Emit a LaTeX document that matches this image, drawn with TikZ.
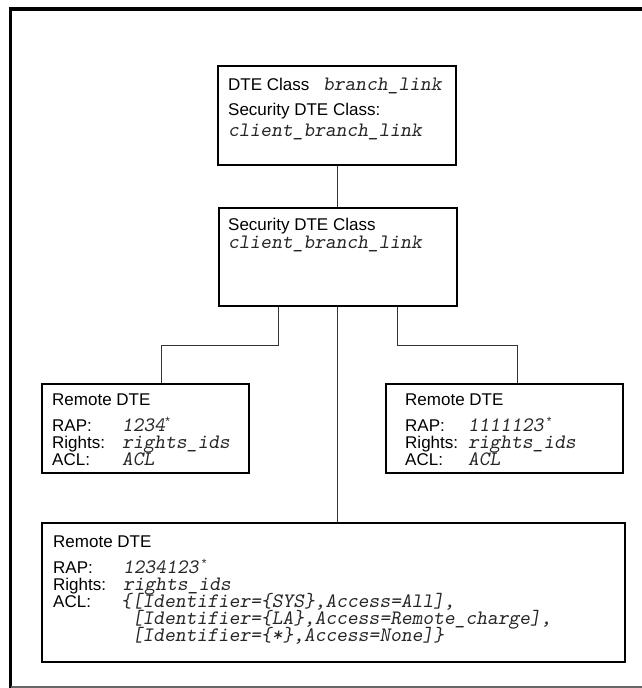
\documentclass[tikz,border=0pt]{standalone}
\usepackage{fontspec}
\setmainfont{Liberation Sans}
\newcommand{\supast}{{\normalfont\fontsize{12}{12}\selectfont\raisebox{6pt}{*}}}
\begin{document}
\begin{tikzpicture}[x=1pt,y=-1pt,
  box/.style={draw,line width=2pt,rectangle,inner sep=0pt,anchor=north west},
  lab/.style={anchor=base west,inner sep=0pt,font=\fontsize{17}{18}\selectfont},
  val/.style={anchor=base west,inner sep=0pt,text=black!85,font=\fontsize{20.5}{20}\selectfont\ttfamily\slshape},
  conn/.style={line width=0.9pt,black!80}]
\useasboundingbox (0,0) rectangle (642,688);
% outer frame
\draw[line width=3.5pt] (10.5,690) -- (10.5,9) -- (645,9);
\draw[line width=1.5pt,black!60] (10.5,687) -- (645,687);

% boxes
\node[box,minimum width=238pt,minimum height=99pt] (top) at (217,65) {};
\node[box,minimum width=238pt,minimum height=98pt] (mid) at (218,207) {};
\node[box,minimum width=207pt,minimum height=89pt] (left) at (41,383) {};
\node[box,minimum width=237pt,minimum height=89pt] (right) at (385,383) {};
\node[box,minimum width=583pt,minimum height=139pt] (bot) at (41,522) {};

% connectors
\coordinate (j1) at (278,345);
\coordinate (j2) at (397,345);
\draw[conn] (top.south) -- (mid.north -| top.south);
\draw[conn] (j1 |- mid.south) -- (j1) -| ([xshift=15.5pt]left.north);
\draw[conn] (j2 |- mid.south) -- (j2) -| ([xshift=12.5pt]right.north);
\draw[conn] ([xshift=-0.5pt]mid.south) -- ([xshift=-0.5pt]mid.south |- bot.north);

% top box text
\node[lab] (t1) at (228,90) {DTE Class};
\node[val] (t1v) at (323,90) {branch\_link};
\node[lab] (t2) at (228,115) {Security DTE Class:};
\node[val] (t3) at (228,136) {client\_branch\_link};

% middle box text
\node[lab] (m1) at (228,230) {Security DTE Class};
\node[val] (m2) at (228,248) {client\_branch\_link};

% left box text
\node[lab] (l0) at (52,405) {Remote DTE};
\node[lab] (l1) at (52,431) {RAP:};
\node[lab] (l2) at (52,448) {Rights:};
\node[lab] (l3) at (52,465) {ACL:};
\node[val] (l1v) at (122,431) {1234\supast};
\node[val] (l2v) at (122,448) {rights\_ids};
\node[val] (l3v) at (122,465) {ACL};

% right box text
\node[lab] (r0) at (405,405) {Remote DTE};
\node[lab] (r1) at (405,431) {RAP:};
\node[lab] (r2) at (405,448) {Rights:};
\node[lab] (r3) at (405,465) {ACL:};
\node[val] (r1v) at (468,431) {1111123\,\supast};
\node[val] (r2v) at (468,448) {rights\_ids};
\node[val] (r3v) at (468,465) {ACL};

% bottom box text
\node[lab] (b0) at (53,547) {Remote DTE};
\node[lab] (b1) at (53,573) {RAP:};
\node[lab] (b2) at (53,590) {Rights:};
\node[lab] (b3) at (53,607) {ACL:};
\node[val] (b1v) at (123,573) {1234123\,\supast};
\node[val] (b2v) at (123,590) {rights\_ids};
\node[val] (b3v) at (121,607) {\{[Identifier=\{SYS\},Access=All],};
\node[val] (b4v) at (121,624) {\ [Identifier=\{LA\},Access=Remote\_charge],};
\node[val] (b5v) at (121,641) {\ [Identifier=\{*\},Access=None]\}};
\end{tikzpicture}
\end{document}
